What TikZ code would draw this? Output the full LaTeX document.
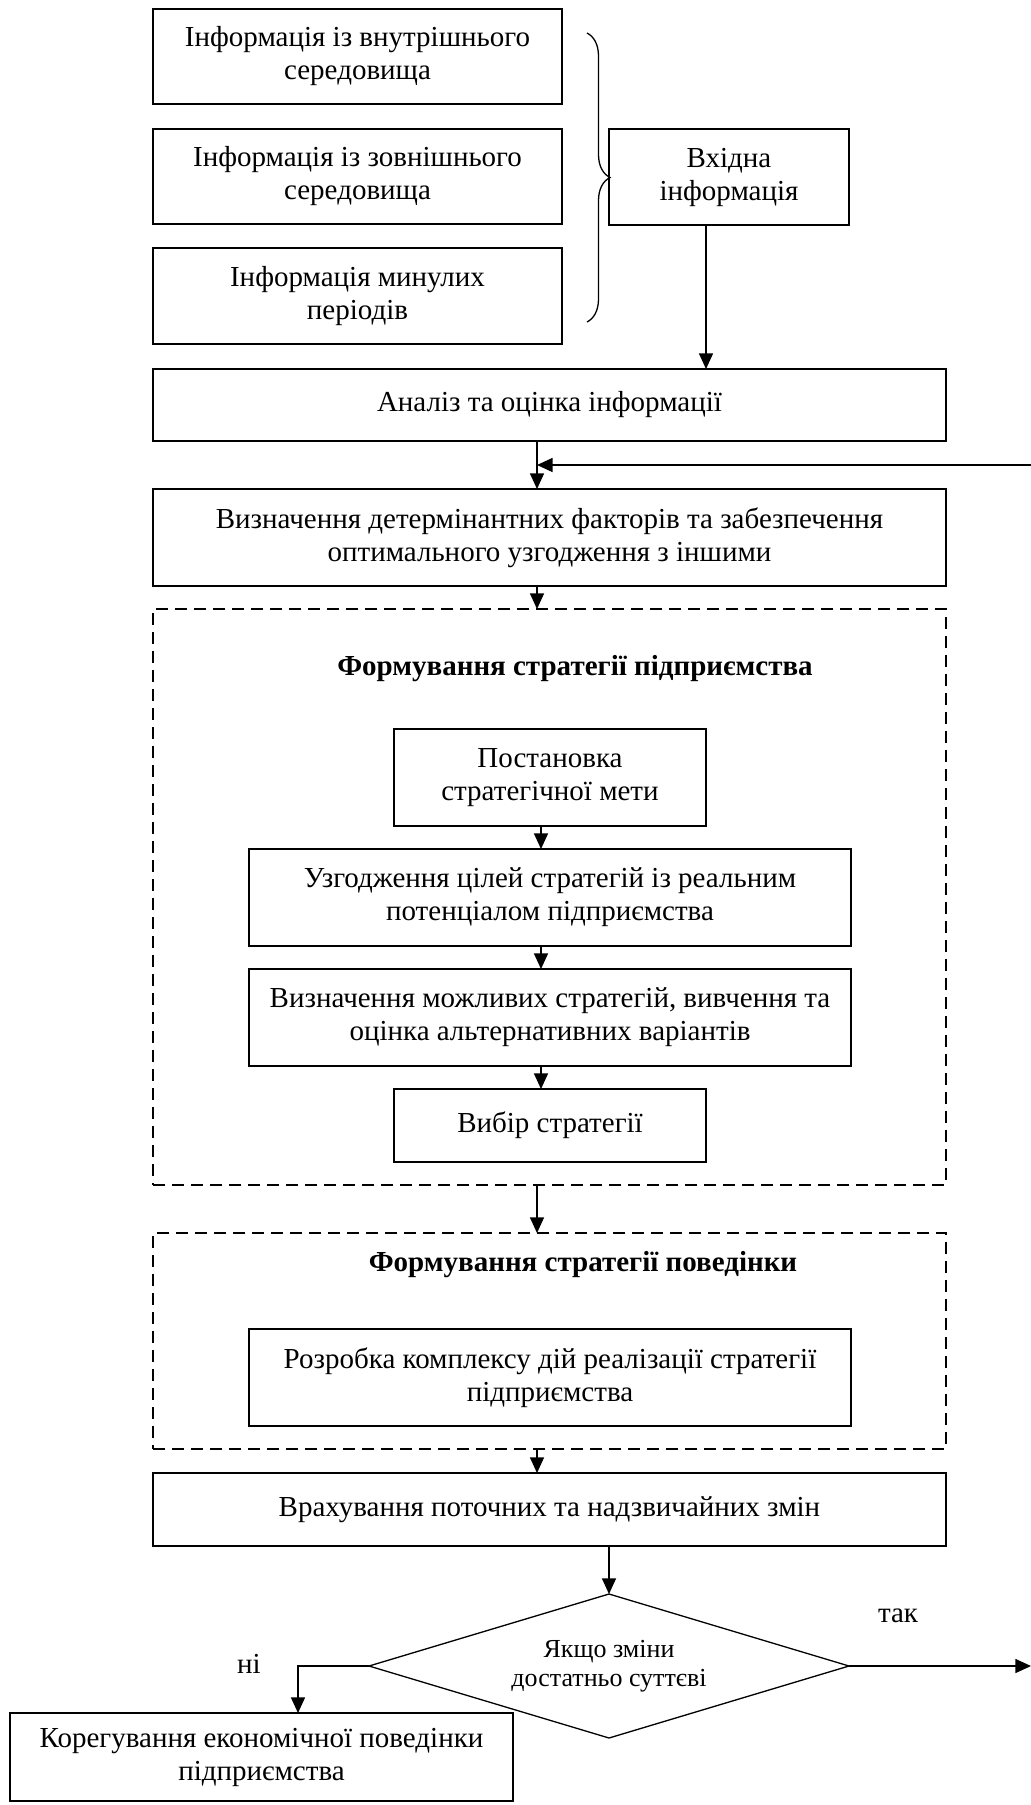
\documentclass[tikz,border=0pt]{standalone}
\usepackage{fontspec}
\setmainfont{Liberation Serif}
\usetikzlibrary{shapes.geometric,arrows.meta,decorations.pathreplacing}
\begin{document}
\begin{tikzpicture}[x=0.5pt,y=-0.5pt,
  box/.style 2 args={draw, line width=0.65pt, inner sep=0pt, outer sep=0pt, align=center,
    minimum width=#1*0.5pt, minimum height=#2*0.5pt, font=\fontsize{14.5}{16.5}\selectfont},
  dbox/.style 2 args={draw, line width=0.65pt, dash pattern=on 6pt off 3.5pt, inner sep=0pt, outer sep=0pt,
    minimum width=#1*0.5pt, minimum height=#2*0.5pt},
  title/.style={font=\bfseries\fontsize{14.5}{16.5}\selectfont, inner sep=0pt},
  lbl/.style={font=\fontsize{14.5}{16.5}\selectfont, inner sep=0pt},
  arr/.style={line width=0.65pt, -{Triangle[length=7.8pt,width=7pt]}}]
\fill[white] (0,0) rectangle (1031,1805);
\useasboundingbox (0,0) rectangle (1031,1805);

\node[box={409}{95}] (b1) at (357.5,56.5) {Інформація із внутрішнього\\середовища};
\node[box={409}{95}] (b2) at (357.5,176.5) {Інформація із зовнішнього\\середовища};
\node[box={409}{96}] (b3) at (357.5,296) {Інформація минулих\\періодів};
\node[box={240}{96}] (vh) at (729,177) {Вхідна\\інформація};
\node[box={793}{72}] (an) at (549.5,405) {Аналіз та оцінка інформації};
\node[box={793}{97}] (det) at (549.5,537.5) {Визначення детермінантних факторів та забезпечення\\оптимального узгодження з іншими};

\node[dbox={793}{576}] (d1) at (549.5,897) {};
\node[title] (t1) at (575,669) {Формування стратегії підприємства};
\node[box={312}{97}] (p1) at (550,777.5) {Постановка\\стратегічної мети};
\node[box={602}{97}] (p2) at (550,897.5) {Узгодження цілей стратегій із реальним\\потенціалом підприємства};
\node[box={602}{97}] (p3) at (550,1017.5) {Визначення можливих стратегій, вивчення та\\оцінка альтернативних варіантів};
\node[box={312}{73}] (p4) at (550,1125.5) {Вибір стратегії};

\node[dbox={793}{216}] (d2) at (549.5,1341) {};
\node[title] (t2) at (583,1265) {Формування стратегії поведінки};
\node[box={602}{97}] (r1) at (550,1377.5) {Розробка комплексу дій реалізації стратегії\\підприємства};

\node[box={793}{73}] (vr) at (549.5,1509.5) {Врахування поточних та надзвичайних змін};
\node[diamond, draw, line width=0.65pt, inner sep=0pt, outer sep=0pt, aspect=3.33,
  minimum width=240pt, minimum height=72pt] (dm) at (609,1666) {};
\node[font=\fontsize{13}{14.5}\selectfont, align=center, inner sep=0pt] (dmt) at (609,1666) {Якщо зміни\\достатньо суттєві};
\node[box={503}{88}] (kor) at (261.5,1757) {Корегування економічної поведінки\\підприємства};
\node[lbl] (yes) at (898,1616) {так};
\node[lbl] (no) at (249,1664) {ні};

% brace
\draw[line width=0.65pt, decorate, decoration={brace, amplitude=11.5pt}] (587,33) -- (587,322);

% connectors
\coordinate (xa) at (706,0);
\coordinate (xb) at (537,0);
\coordinate (xc) at (541,0);
\coordinate (fb) at (1031,465);
\coordinate (nc) at (298,1666);
\coordinate (ye) at (1031,1666);
\draw[arr] (vh.south -| xa) -- (an.north -| xa);
\draw[arr] (an.south -| xb) -- (det.north -| xb);
\draw[arr] (fb) -- (fb -| xb);
\draw[arr] (det.south -| xb) -- (d1.north -| xb);
\draw[arr] (p1.south -| xc) -- (p2.north -| xc);
\draw[arr] (p2.south -| xc) -- (p3.north -| xc);
\draw[arr] (p3.south -| xc) -- (p4.north -| xc);
\draw[arr] (d1.south -| xb) -- (d2.north -| xb);
\draw[arr] (d2.south -| xb) -- (vr.north -| xb);
\draw[arr] (vr.south -| dm.north) -- (dm.north);
\draw[arr] (dm.west) -- (nc) -- (kor.north -| nc);
\draw[arr] (dm.east) -- (ye);
\end{tikzpicture}
\end{document}
